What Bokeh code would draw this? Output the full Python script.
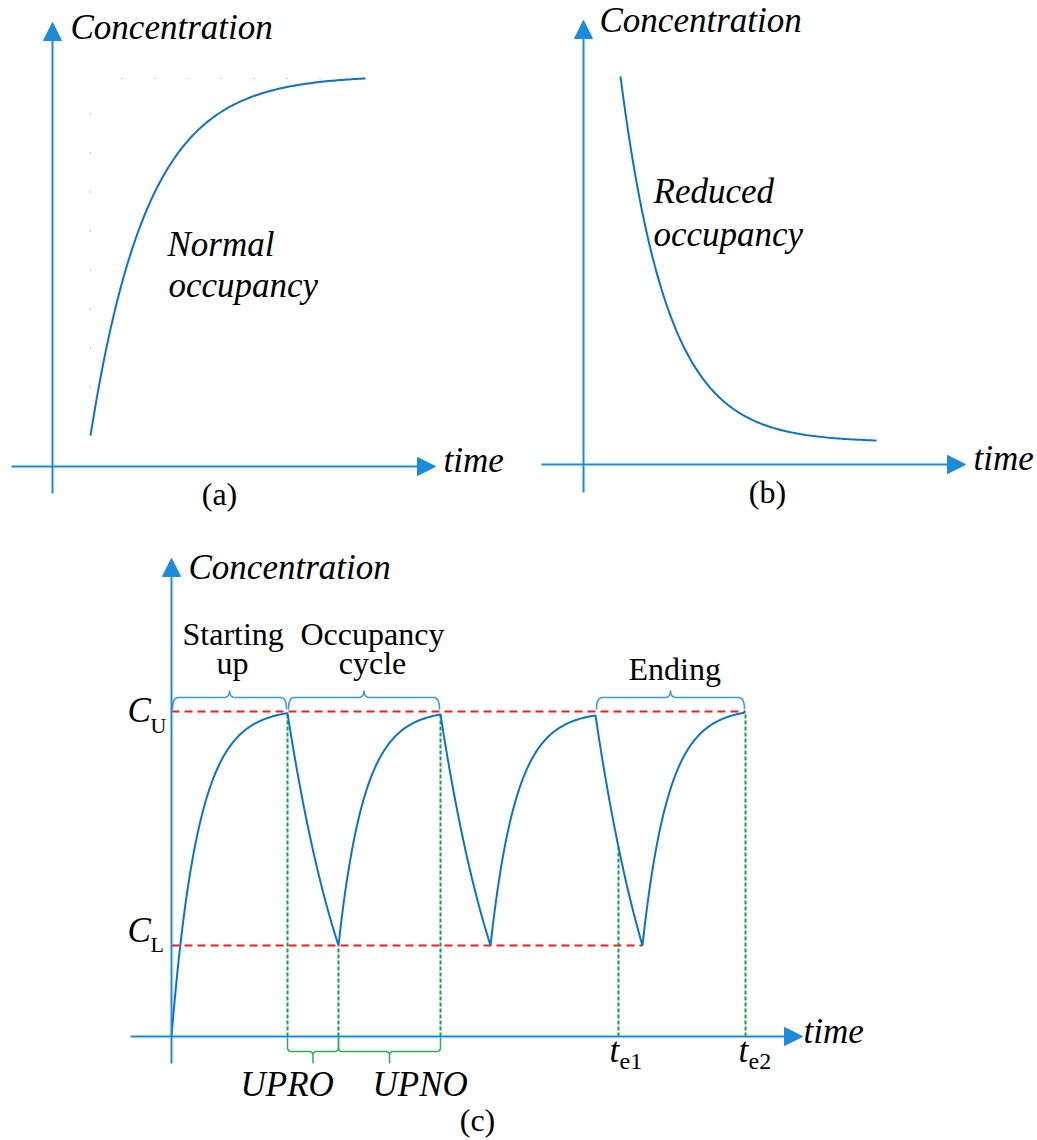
import numpy as np
from bokeh.plotting import figure
from bokeh.models import Range1d, Arrow, NormalHead
from bokeh.core.properties import value
from bokeh.embed import file_html
from bokeh.resources import INLINE

# ---- data (time in min, concentration in ppm) ----
# (a) normal occupancy: rise towards the steady level
A_TIME = [19.0, 156.5]
A_CONC = [95.0, 1194.0]
A_TAU = 28.5

# (b) reduced occupancy: decay towards the background level
B_TIME = [18.5, 146.5]
B_CONC = [1194.0, 74.0]
B_TAU = 23.5

# (c) controlled cycle between the lower and upper limits
C_UPPER = 1000.0
C_LOWER = 280.0
C_TIMES = [0.0, 58.0, 83.5, 134.5, 159.5, 212.0, 235.5, 287.0]
C_LEVELS = [0.0, 995.0, 280.0, 991.0, 280.0, 988.0, 280.0, 997.0]
C_TAUS = [13.5, 35.0, 13.0, 35.0, 13.0, 35.0, 13.0]
T_E1 = 223.5
T_E2 = 287.0
PHASES = [("Starting up", 0.0, 58.0), ("Occupancy cycle", 58.0, 134.5), ("Ending", 212.0, 287.0)]
PERIODS = [("UPRO", 58.0, 83.5), ("UPNO", 83.5, 134.5)]

# ---- page geometry / style ----
W, H = 1037, 1140
PX_T = 2.0      # px per minute
PX_C = 0.325    # px per ppm
ORIGIN = {"a": (52, 466), "b": (583, 464), "c": (171, 1036)}
AXIS_EXT = {"a": ((-20.5, 191.5), (-83, 1366)),
            "b": ((-21.0, 191.0), (-86, 1366)),
            "c": ((-20.5, 315.5), (-83, 1471))}
AX_COL = "#1B8BDB"
CURVE_COL = "#0B73C7"
BRACE_COL = "#3A9BE0"
RED = "#FF1A1A"
GREEN = "#12A04A"
SERIF = "Liberation Serif"
BASELINE_FIX = 0.36   # svg text sits this fraction of the font size below the requested baseline


def exp_segment(t0, c0, t1, c1, tau, n=120):
    t = np.linspace(t0, t1, n)
    e = np.exp(-(t1 - t0) / tau)
    c_inf = (c1 - c0 * e) / (1 - e)
    return t, c_inf + (c0 - c_inf) * np.exp(-(t - t0) / tau)


def quad(p0, p1, p2, n=12):
    s = np.linspace(0, 1, n)[1:]
    return [((1 - u) ** 2 * p0[0] + 2 * (1 - u) * u * p1[0] + u ** 2 * p2[0],
             (1 - u) ** 2 * p0[1] + 2 * (1 - u) * u * p1[1] + u ** 2 * p2[1]) for u in s]


def brace(x0, x1, base, sgn, e, b, rv, rh, rt, rtv, tip, inset=0.0):
    x0 = x0 + inset / PX_T
    x1 = x1 - inset / PX_T
    L = (x1 - x0) * PX_T / 2
    pts = [(0, e), (0, b - rv)]
    pts += quad((0, b - rv), (0, b), (rh, b))
    pts += [(L - rt, b)]
    pts += quad((L - rt, b), (L, b), (L, b + rtv))
    pts += [(L, tip)]
    half = np.array(pts)
    right = half[::-1].copy()
    right[:, 0] = 2 * L - right[:, 0]
    full = np.vstack([half, right])
    return list(x0 + full[:, 0] / PX_T), list(base + sgn * full[:, 1] / PX_C)


# default ranges are page pixels (y up); each panel gets its own time/concentration ranges
p = figure(width=W, height=H, x_range=Range1d(0, W), y_range=Range1d(0, H),
           output_backend="svg", toolbar_location=None,
           x_axis_location=None, y_axis_location=None,
           min_border=0, outline_line_color=None)
for g in p.grid:
    g.visible = False
p.background_fill_color = "white"
p.border_fill_color = "white"

xr, yr = {}, {}
for k, (ox, oy) in ORIGIN.items():
    xr[k] = Range1d(-ox / PX_T, (W - ox) / PX_T)
    yr[k] = Range1d(-(H - oy) / PX_C, oy / PX_C)
p.extra_x_ranges = xr
p.extra_y_ranges = yr

# axes with arrow heads
for k, ((xa, xb), (ya, yb)) in AXIS_EXT.items():
    for xs, ys, xe, ye in [(xa, 0, xb, 0), (0, ya, 0, yb)]:
        p.add_layout(Arrow(end=NormalHead(size=18, fill_color=AX_COL, line_color=AX_COL, line_width=1),
                           x_start=xs, y_start=ys, x_end=xe, y_end=ye,
                           line_color=AX_COL, line_width=2,
                           x_range_name=k, y_range_name=k))

# (a) faint guide dots and rising curve
ta, ca = exp_segment(A_TIME[0], A_CONC[0], A_TIME[1], A_CONC[1], A_TAU)
p.line([A_TIME[0], A_TIME[0]], [243, 1089], line_color="#9a9a9a", line_width=1,
       line_dash="1 38", x_range_name="a", y_range_name="a")
p.line([34.5, 136], [A_CONC[1], A_CONC[1]], line_color="#9a9a9a", line_width=1,
       line_dash="1 32", x_range_name="a", y_range_name="a")
p.line(ta, ca, line_color=CURVE_COL, line_width=2, x_range_name="a", y_range_name="a")

# (b) decaying curve
tb, cb = exp_segment(B_TIME[0], B_CONC[0], B_TIME[1], B_CONC[1], B_TAU)
p.line(tb, cb, line_color=CURVE_COL, line_width=2, x_range_name="b", y_range_name="b")

# (c) limits
p.segment(x0=[0, 0], y0=[C_UPPER, C_LOWER], x1=[C_TIMES[-1], C_TIMES[-2]], y1=[C_UPPER, C_LOWER],
          line_color=RED, line_width=2, line_dash="8 5", x_range_name="c", y_range_name="c")

# (c) piecewise curve
segs = []
for i in range(len(C_TIMES) - 1):
    segs.append(exp_segment(C_TIMES[i], C_LEVELS[i], C_TIMES[i + 1], C_LEVELS[i + 1], C_TAUS[i]))
tc = np.concatenate([s[0] for s in segs])
cc = np.concatenate([s[1] for s in segs])

# concentration at t_e1 on the last decay
i_e1 = max(i for i in range(len(C_TIMES) - 1) if C_TIMES[i] <= T_E1)
t0, t1 = C_TIMES[i_e1], C_TIMES[i_e1 + 1]
c0, c1 = C_LEVELS[i_e1], C_LEVELS[i_e1 + 1]
e = np.exp(-(t1 - t0) / C_TAUS[i_e1])
cinf = (c1 - c0 * e) / (1 - e)
c_e1 = cinf + (c0 - cinf) * np.exp(-(T_E1 - t0) / C_TAUS[i_e1])

gx = [C_TIMES[1], C_TIMES[2], C_TIMES[3], T_E1, T_E2]
gy = [C_LEVELS[1], C_LEVELS[2], C_LEVELS[3], c_e1, C_LEVELS[-1]]
p.segment(x0=gx, y0=[0] * len(gx), x1=gx, y1=gy, line_color=GREEN, line_width=2,
          line_dash="4 2", x_range_name="c", y_range_name="c")

p.line(tc, cc, line_color=CURVE_COL, line_width=2, x_range_name="c", y_range_name="c")

# phase braces above the upper limit
bx, by = [], []
for _, s, t in PHASES:
    x, y = brace(s, t, C_UPPER, 1, 2, 14, 12, 6, 6, 7, 21, inset=1.0)
    bx.append(x)
    by.append(y)
p.multi_line(bx, by, line_color=BRACE_COL, line_width=1.6, x_range_name="c", y_range_name="c")

# period braces under the time axis
gxs, gys = [], []
for _, s, t in PERIODS:
    x, y = brace(s, t, 0.0, -1, 1, 15, 4, 4, 4, 4, 27)
    gxs.append(x)
    gys.append(y)
p.multi_line(gxs, gys, line_color="#2DB04B", line_width=1.5, x_range_name="c", y_range_name="c")

# texts (page position: left/centre x, baseline y measured from the top)
TEXTS = [
    ("Concentration", 70, 40, "left", "italic", 35),
    ("Normal", 167, 257, "left", "italic", 35),
    ("occupancy", 168, 298, "left", "italic", 35),
    ("time", 443, 473, "left", "italic", 35),
    ("(a)", 219, 505, "center", "normal", 32),
    ("Concentration", 599, 33, "left", "italic", 35),
    ("Reduced", 653, 204, "left", "italic", 35),
    ("occupancy", 653, 247, "left", "italic", 35),
    ("time", 973, 471, "left", "italic", 35),
    ("(b)", 767, 503, "center", "normal", 32),
    ("Concentration", 188, 580, "left", "italic", 35),
    ("Starting", 182, 645, "left", "normal", 32),
    ("up", 232, 674, "center", "normal", 32),
    ("Occupancy", 300, 645, "left", "normal", 32),
    ("cycle", 372, 674, "center", "normal", 32),
    ("Ending", 628, 680, "left", "normal", 32),
    ("C", 127, 723, "left", "italic", 35),
    ("U", 150, 733, "left", "normal", 22),
    ("C", 127, 943, "left", "italic", 35),
    ("L", 150, 952, "left", "normal", 22),
    ("UPRO", 240, 1097, "left", "italic", 35),
    ("UPNO", 372, 1097, "left", "italic", 35),
    ("(c)", 477, 1131, "center", "normal", 32),
    ("t", 609, 1063, "left", "italic", 35),
    ("e1", 619, 1070, "left", "normal", 24),
    ("t", 738, 1063, "left", "italic", 35),
    ("e2", 748, 1070, "left", "normal", 24),
    ("time", 803, 1044, "left", "italic", 35),
]
for align in ("left", "center"):
    for style in ("normal", "italic"):
        for size in (22, 24, 32, 35):
            rows = [r for r in TEXTS if r[3] == align and r[4] == style and r[5] == size]
            if not rows:
                continue
            shift = BASELINE_FIX * size
            p.text(x=[r[1] for r in rows], y=[H - r[2] + shift for r in rows], text=[r[0] for r in rows],
                   text_font=value(SERIF), text_font_style=style, text_font_size=f"{size}px",
                   text_align=align, text_baseline="alphabetic", text_color="black")

open("out.html", "w").write(file_html(p, INLINE))
